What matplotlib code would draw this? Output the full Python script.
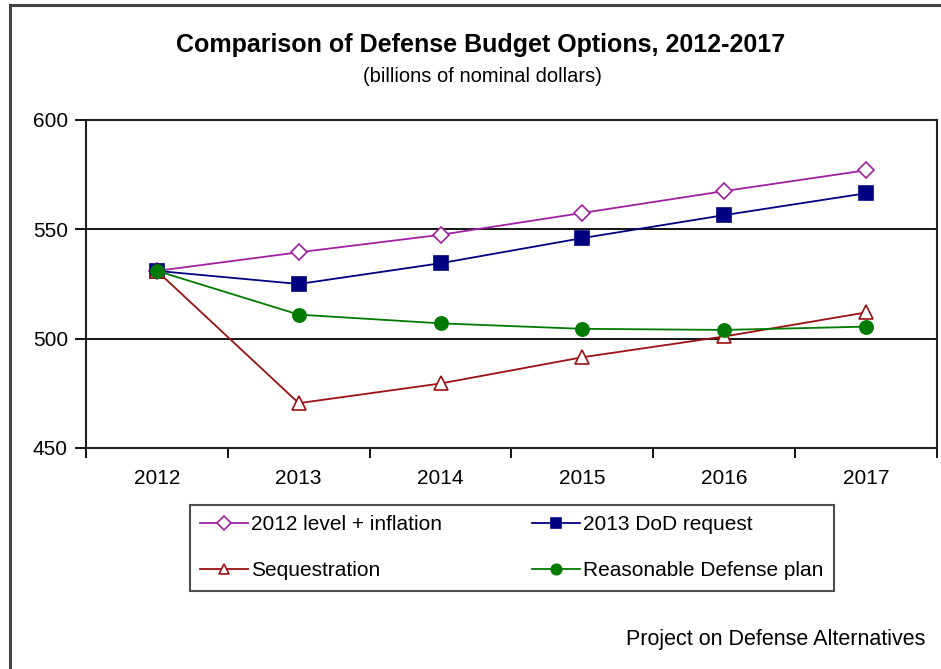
import numpy as np
import matplotlib.pyplot as plt
from matplotlib.lines import Line2D

plt.rcParams['font.family'] = ['Liberation Sans', 'DejaVu Sans']

years = ['2012', '2013', '2014', '2015', '2016', '2017']
level_inflation = [531, 539.5, 547.5, 557.5, 567.5, 577]
dod_request = [531, 525, 534.5, 546, 556.5, 566.5]
sequestration = [531, 470.5, 479.5, 491.5, 501, 512]
reasonable = [531, 511, 507, 504.5, 504, 505.5]
y_ticks = [450, 500, 550, 600]

fig = plt.figure(figsize=(9.41, 6.69), dpi=100)
# outer chart frame (top and left visible)
fig.add_artist(Line2D([0.0102, 0.0102], [0, 0.9925], color='#444444', lw=2.2))
fig.add_artist(Line2D([0.0102, 1.0], [0.9925, 0.9925], color='#444444', lw=2.2))

ax = fig.add_axes([86 / 941, 1 - 448 / 669, 851 / 941, 328 / 669])
x = np.arange(len(years))

series = {
    'level': (level_inflation, '2012 level + inflation', '#a020a0', 'D', 'white', 8),
    'dod': (dod_request, '2013 DoD request', '#000080', 's', '#000080', 9.5),
    'seq': (sequestration, 'Sequestration', '#9b1010', '^', 'white', 10),
    'rd': (reasonable, 'Reasonable Defense plan', '#007a00', 'o', '#007a00', 9.5),
}
handles = {}
for key, (vals, lab, col, mk, fc, ms) in series.items():
    h, = ax.plot(x, vals, color=col, lw=1.3, marker=mk, markersize=ms,
                 markerfacecolor=fc, markeredgecolor=col, markeredgewidth=1.2,
                 label=lab)
    handles[key] = h

ax.set_xlim(-0.5, 5.5)
ax.set_ylim(450, 600)
ax.set_yticks(y_ticks)
ax.set_xticks(np.arange(-0.5, 6, 1), minor=False)
ax.set_xticklabels([])
ax.set_xticks(x, minor=True)
ax.set_xticklabels(years, minor=True)
ax.tick_params(axis='x', which='minor', length=0, pad=15, labelsize=15)
ax.tick_params(axis='x', which='major', length=7, width=1.3, direction='out')
ax.tick_params(axis='y', length=8, width=1.3, direction='out', labelsize=15, pad=5)
for s in ax.spines.values():
    s.set_linewidth(1.5)
    s.set_color('#222222')
for yv in [500, 550]:
    ax.axhline(yv, color='black', lw=1.3, zorder=0)

fig.text(481 / 941, 1 - 45 / 669, 'Comparison of Defense Budget Options, 2012-2017',
         ha='center', va='center', fontsize=18, fontweight='bold')
fig.text(482 / 941, 1 - 77 / 669, '(billions of nominal dollars)',
         ha='center', va='center', fontsize=14.5)

order = ['level', 'seq', 'dod', 'rd']
leg = fig.legend(handles=[handles[k] for k in order], loc='upper left', ncol=2,
                 bbox_to_anchor=(190 / 941, 1 - 595 / 669, 644 / 941, 90 / 669),
                 mode='expand', frameon=True, fancybox=False, fontsize=15,
                 handlelength=2.3, handletextpad=0.15, columnspacing=1.0,
                 labelspacing=1.3, borderpad=0.5, borderaxespad=0)
leg.get_frame().set_edgecolor('#222222')
leg.get_frame().set_linewidth(1.5)
for lh in leg.legend_handles:
    lh.set_markersize(7.5)

fig.text(925 / 941, 1 - 640 / 669, 'Project on Defense Alternatives',
         ha='right', va='center', fontsize=15.5)

fig.savefig('out.png', dpi=100)
